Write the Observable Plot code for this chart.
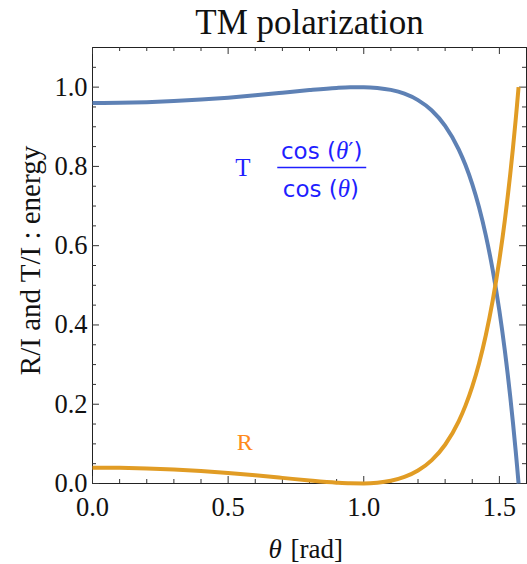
<!DOCTYPE html>
<html><head><meta charset="utf-8">
<script src="https://cdn.jsdelivr.net/npm/d3@7"></script>
<script src="https://cdn.jsdelivr.net/npm/@observablehq/plot@0.6"></script>
<style>body{margin:0;background:#fff}</style>
</head><body><div id="chart"></div>
<script>
// incidence angle θ [rad]
const theta = [0, 0.1, 0.2, 0.3, 0.4, 0.5, 0.6, 0.7, 0.8, 0.9, 0.95, 1.0, 1.05, 1.1, 1.15, 1.2, 1.25, 1.3, 1.35, 1.375, 1.4, 1.425, 1.45, 1.475, 1.5, 1.52, 1.54, 1.55, 1.56, 1.565, 1.5708];
// R/I (reflected energy)
const reflected = [0.0400, 0.0395, 0.0379, 0.0352, 0.0314, 0.0265, 0.0207, 0.0142, 0.0075, 0.0020, 0.0004, 0.0001, 0.0020, 0.0070, 0.0165, 0.0327, 0.0584, 0.0978, 0.1569, 0.1965, 0.2446, 0.3030, 0.3739, 0.4599, 0.5643, 0.6638, 0.7803, 0.8459, 0.9168, 0.9544, 1.0000];
// T/I (transmitted energy)
const transmitted = [0.9600, 0.9605, 0.9621, 0.9648, 0.9686, 0.9735, 0.9793, 0.9858, 0.9925, 0.9980, 0.9996, 0.9999, 0.9980, 0.9930, 0.9835, 0.9673, 0.9416, 0.9022, 0.8431, 0.8035, 0.7554, 0.6970, 0.6261, 0.5401, 0.4357, 0.3362, 0.2197, 0.1541, 0.0832, 0.0456, 0.0000];

const xMajorTicks = [0, 0.5, 1.0, 1.5];
const xMinorTicks = [0.1, 0.2, 0.3, 0.4, 0.6, 0.7, 0.8, 0.9, 1.1, 1.2, 1.3, 1.4];
const yMajorTicks = [0, 0.2, 0.4, 0.6, 0.8, 1.0];
const yMinorTicks = [0.05, 0.1, 0.15, 0.25, 0.3, 0.35, 0.45, 0.5, 0.55, 0.65, 0.7, 0.75, 0.85, 0.9, 0.95, 1.05];

const titleText = "TM polarization";
const xLabelVar = "θ";
const xLabelUnit = "[rad]";
const yLabelText = "R/I and T/I : energy";

// curve annotations (data coordinates)
const labelT = [{theta: 0.554, value: 0.795, text: "T"}];
const labelR = [{theta: 0.561, value: 0.104, text: "R"}];
const fracNum = [{theta: 0.845, value: 0.838, text: "cos (θ′)"}];
const fracDen = [{theta: 0.842, value: 0.742, text: "cos (θ)"}];
const fracBar = [{x1: 0.683, x2: 1.011, value: 0.797}];

const data = theta.map((t, i) => ({theta: t, R: reflected[i], T: transmitted[i]}));

const W = 527, H = 564, mL = 92, mR = 1, mT = 47, mB = 81;
const fw = W - mL - mR, fh = H - mT - mB;
const serif = "Liberation Serif";
const tickColor = "#333";
const textBlue = "#1f1fff";

const chart = Plot.plot({
  width: W, height: H,
  marginLeft: mL, marginRight: mR, marginTop: mT, marginBottom: mB,
  x: {domain: [0, 1.6], axis: null},
  y: {domain: [0, 1.1], axis: null},
  marks: [
    Plot.frame({stroke: "#222", strokeWidth: 1}),
    // bottom ticks
    Plot.ruleX(xMajorTicks, {x: d => d, insetTop: fh - 7, stroke: tickColor}),
    Plot.ruleX(xMinorTicks, {x: d => d, insetTop: fh - 4, stroke: tickColor}),
    // top ticks
    Plot.ruleX(xMajorTicks, {x: d => d, insetBottom: fh - 7, stroke: tickColor}),
    Plot.ruleX(xMinorTicks, {x: d => d, insetBottom: fh - 4, stroke: tickColor}),
    // left ticks
    Plot.ruleY(yMajorTicks, {y: d => d, insetRight: fw - 7, stroke: tickColor}),
    Plot.ruleY(yMinorTicks, {y: d => d, insetRight: fw - 4, stroke: tickColor}),
    // right ticks
    Plot.ruleY(yMajorTicks, {y: d => d, insetLeft: fw - 7, stroke: tickColor}),
    Plot.ruleY(yMinorTicks, {y: d => d, insetLeft: fw - 4, stroke: tickColor}),
    // curves
    Plot.line(data, {x: "theta", y: "T", stroke: "#5E81B5", strokeWidth: 4, curve: "monotone-x", strokeLinecap: "butt"}),
    Plot.line(data, {x: "theta", y: "R", stroke: "#E19C24", strokeWidth: 4, curve: "monotone-x", strokeLinecap: "butt"}),
    // tick labels
    Plot.text(xMajorTicks, {x: d => d, frameAnchor: "bottom", dy: 24, text: d => d.toFixed(1), textAnchor: "middle", fontFamily: serif, fontSize: 26.5, fill: "#111", lineAnchor: "middle"}),
    Plot.text(yMajorTicks, {y: d => d, frameAnchor: "left", dx: -5, text: d => d.toFixed(1), textAnchor: "end", fontFamily: serif, fontSize: 26.5, fill: "#111", lineAnchor: "middle"}),
    // axis labels
    Plot.text([xLabelVar], {frameAnchor: "bottom", dx: -41, dy: 66, text: d => d, textAnchor: "start", fontStyle: "italic", fontFamily: serif, fontSize: 27, fill: "#111", lineAnchor: "middle"}),
    Plot.text([xLabelUnit], {frameAnchor: "bottom", dx: -19, dy: 66, text: d => d, textAnchor: "start", fontFamily: serif, fontSize: 27, fill: "#111", lineAnchor: "middle"}),
    Plot.text([yLabelText], {frameAnchor: "left", dx: -62, dy: -5, text: d => d, textAnchor: "middle", rotate: -90, fontFamily: serif, fontSize: 29, fill: "#111", lineAnchor: "middle"}),
    // title
    Plot.text([titleText], {frameAnchor: "top", dy: -25, text: d => d, textAnchor: "middle", fontFamily: serif, fontSize: 35, fill: "#111", lineAnchor: "middle"}),
    // annotations
    Plot.text(labelT, {x: "theta", y: "value", text: "text", fill: textBlue, fontFamily: serif, fontSize: 25, lineAnchor: "middle"}),
    Plot.text(labelR, {x: "theta", y: "value", text: "text", fill: "#ff8a1a", fontFamily: serif, fontSize: 24, lineAnchor: "middle"}),
    Plot.text(fracNum, {x: "theta", y: "value", text: "text", fill: textBlue, fontFamily: "DejaVu Sans", fontSize: 23, lineAnchor: "middle"}),
    Plot.text(fracDen, {x: "theta", y: "value", text: "text", fill: textBlue, fontFamily: "DejaVu Sans", fontSize: 23, lineAnchor: "middle"}),
    Plot.ruleY(fracBar, {y: "value", x1: "x1", x2: "x2", stroke: textBlue, strokeWidth: 1.5})
  ]
});

// render the θ inside the fraction in italic serif, as in the reference
d3.select(chart).selectAll("text").each(function() {
  const s = this.textContent;
  if (s.startsWith("cos (θ")) {
    const parts = s.split("θ");
    const sel = d3.select(this);
    sel.text(null);
    sel.append("tspan").text(parts[0]);
    sel.append("tspan").attr("font-family", serif).attr("font-style", "italic").attr("font-size", 25).text("θ");
    sel.append("tspan").text(parts[1]);
  }
});
document.getElementById("chart").appendChild(chart);
</script>
</body></html>
